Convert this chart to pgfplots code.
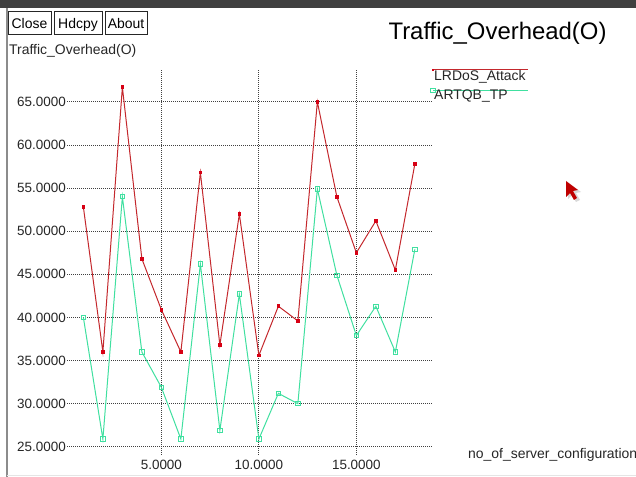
\documentclass[border=0pt]{standalone}
\usepackage{fontspec}
\setmainfont{Liberation Sans}
\usepackage{pgfplots}
\pgfplotsset{compat=1.18}
\definecolor{lred}{RGB}{196,40,45}
\definecolor{mred}{RGB}{215,0,20}
\definecolor{lgreen}{RGB}{64,224,160}
\begin{document}
\begin{tikzpicture}[x=1bp,y=1bp]
\path[use as bounding box] (0,0) rectangle (636,477);
\fill[white] (0,0) rectangle (636,477);
\begin{scope}
\clip (0,0) rectangle (636,477);
\begin{axis}[
  at={(67bp,22bp)}, anchor=south west,
  scale only axis, width=365bp, height=385bp,
  xmin=0.16, xmax=18.88, ymin=24.05, ymax=68.7,
  axis line style={draw=none},
  xtick={5,10,15}, ytick={25,30,35,40,45,50,55,60,65},
  major tick length=0pt,
  grid=major,
  major grid style={black!75, line width=0.9bp, dash pattern=on 1bp off 1bp},
  /pgf/number format/.cd, fixed, fixed zerofill, precision=4, assume math mode=true,
  /pgfplots/.cd,
  tick label style={font=\fontsize{13.5}{14}\selectfont, text=black!85},
  yticklabel style={anchor=east, inner sep=0pt, xshift=-1bp},
  xticklabel style={anchor=north, inner sep=0pt, yshift=-5bp},
  clip=false,
]
\addplot[lred, line width=1bp, mark=square*, mark size=1.3bp, mark options={fill=mred, draw=mred}] coordinates {
(1,52.8) (2,36.0) (3,66.7) (4,46.8) (5,40.9) (6,36.0) (7,56.8) (8,36.8) (9,52.0)
(10,35.6) (11,41.3) (12,39.6) (13,65.0) (14,54.0) (15,47.5) (16,51.2) (17,45.5) (18,57.8)};
\addplot[lgreen, line width=1bp, mark=square, mark size=2.2bp, mark options={draw=lgreen, fill=none}] coordinates {
(1,40.0) (2,25.9) (3,54.0) (4,36.0) (5,31.9) (6,25.9) (7,46.2) (8,26.9) (9,42.7)
(10,25.9) (11,31.2) (12,30.0) (13,54.9) (14,44.9) (15,37.9) (16,41.3) (17,36.0) (18,47.9)};
\end{axis}
% x label (cut at the right edge)
\node[anchor=base west, inner sep=0pt, font=\fontsize{14}{16}\selectfont, text=black!85] at (468,18) {no\_of\_server\_configuration};
\end{scope}
% window frame
\fill[black!75] (0,469) rectangle (636,477);
\draw[black!45, line width=1.5bp] (7,0) -- (7,469);
\draw[black!10, line width=1bp] (7,1) -- (636,1);
% buttons
\foreach \xa/\xb/\t in {8/51/Close, 54/102/Hdcpy, 105/147/About} {
  \draw[black!85, line width=1bp] (\xa,442) rectangle (\xb,465);
  \node[font=\fontsize{14}{16}\selectfont, inner sep=0pt, anchor=base] at ({(\xa+\xb)/2},448) {\t};
}
% y label and title
\node[anchor=base west, inner sep=0pt, font=\fontsize{14}{16}\selectfont, text=black!85] at (9,422) {Traffic\_Overhead(O)};
\node[anchor=base, inner sep=0pt, font=\fontsize{24}{28}\selectfont] at (497.5,437) {Traffic\_Overhead(O)};
% legend
\draw[lred, line width=1bp] (433,407) -- (528,407);
\fill[mred] (431.7,405.7) rectangle (434.3,408.3);
\node[anchor=base west, inner sep=0pt, font=\fontsize{14}{16}\selectfont, text=black!85] at (434,396) {LRDoS\_Attack};
\draw[lgreen, line width=1bp] (433,386.5) -- (528,386.5);
\draw[lgreen, line width=1bp] (430.8,384.3) rectangle (435.2,388.7);
\node[anchor=base west, inner sep=0pt, font=\fontsize{14}{16}\selectfont, text=black!85] at (434,377) {ARTQB\_TP};
% mouse pointer
\fill[black!15] (568,294) -- (568,278) -- (572,282) -- (576,275) -- (580,277) -- (576,284) -- (581,285) -- cycle;
\fill[red!75!black] (566,296) -- (566,280) -- (570,284) -- (574,277) -- (577,279) -- (573,286) -- (578,287) -- cycle;
\end{tikzpicture}
\end{document}
